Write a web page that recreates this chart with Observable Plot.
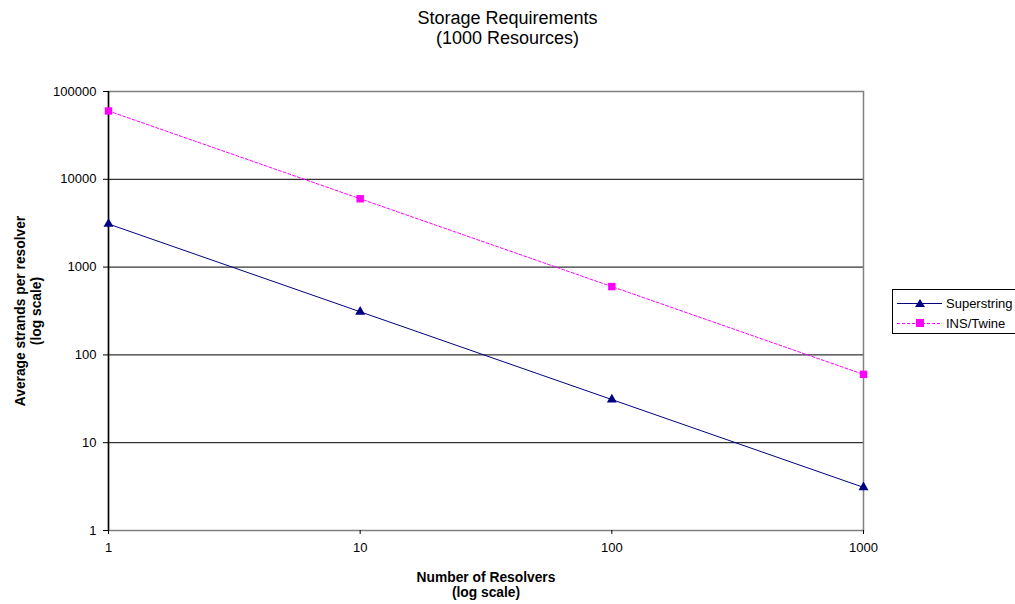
<!DOCTYPE html>
<html>
<head>
<meta charset="utf-8">
<script src="https://cdn.jsdelivr.net/npm/d3@7"></script>
<script src="https://cdn.jsdelivr.net/npm/@observablehq/plot@0.6"></script>
<style>
  html, body { margin: 0; padding: 0; background: #fff; }
  #wrap { position: relative; width: 1015px; height: 604px; overflow: hidden; font-family: "Liberation Sans", Arial, sans-serif; }
  #title { position: absolute; left: 0; top: 8px; width: 1015px; text-align: center; font-size: 18px; line-height: 20px; color: #000; }
  #chart { position: absolute; left: 0; top: 0; }
  #legend { position: absolute; left: 892px; top: 289px; width: 135px; height: 43px; border: 1px solid #000; background: #fff; font-size: 13px; }
  .lrow { position: absolute; left: 0; height: 16px; display: flex; align-items: center; }
  .lrow svg { display: block; }
  .lrow span { margin-left: 3px; }
</style>
</head>
<body>
<div id="wrap">
  <div id="chart"></div>
  <div id="title">Storage Requirements<br>(1000 Resources)</div>
  <div id="legend"></div>
</div>
<script>
// Data
const resolvers = [1, 10, 100, 1000];
const superstring = [3100, 310, 31, 3.1];
const insTwine = [60000, 6000, 600, 60];
const seriesNames = ["Superstring", "INS/Twine"];
const seriesColors = ["#000080", "#FF00FF"];
const yTicks = [1, 10, 100, 1000, 10000, 100000];
const gridValues = [10, 100, 1000, 10000];

const rows = [];
resolvers.forEach((r, i) => {
  rows.push({series: seriesNames[0], x: r, y: superstring[i]});
  rows.push({series: seriesNames[1], x: r, y: insTwine[i]});
});
const sRows = rows.filter(d => d.series === seriesNames[0]);
const iRows = rows.filter(d => d.series === seriesNames[1]);

const font = "Liberation Sans, Arial, sans-serif";

const chart = Plot.plot({
  width: 1015,
  height: 604,
  marginLeft: 108,
  marginRight: 152,
  marginTop: 91,
  marginBottom: 74,
  style: {fontFamily: font, fontSize: "13px", color: "#000", background: "transparent"},
  x: {type: "log", domain: [1, 1000]},
  y: {type: "log", domain: [1, 100000]},
  marks: [
    Plot.ruleY(gridValues, {stroke: "#000", strokeWidth: 1}),
    Plot.frame({stroke: "#808080", strokeWidth: 1.5}),
    Plot.axisY({ticks: yTicks, tickFormat: d => String(d), tickSize: 5, tickPadding: 7, label: null, stroke: "#000", fontSize: 13}),
    Plot.axisX({ticks: resolvers, tickFormat: d => String(d), tickSize: 4, tickPadding: 8, label: null, stroke: "#000", fontSize: 13}),
    Plot.ruleX([1], {stroke: "#000", strokeWidth: 1.5}),
    Plot.line(sRows, {x: "x", y: "y", stroke: seriesColors[0], strokeWidth: 1}),
    Plot.line(iRows, {x: "x", y: "y", stroke: seriesColors[1], strokeWidth: 1, strokeDasharray: "3,2"}),
    Plot.dot(sRows, {x: "x", y: "y", symbol: "triangle", r: 3.7, fill: seriesColors[0], stroke: "none"}),
    Plot.dot(iRows, {x: "x", y: "y", symbol: "square", r: 4.2, fill: seriesColors[1], stroke: "none"}),
    Plot.text(["Average strands per resolver\n(log scale)"], {
      text: d => d, frameAnchor: "left", rotate: -90, dx: -81, textAnchor: "middle", lineAnchor: "middle",
      lineHeight: 1.17, fontWeight: "bold", fontSize: 13.8, fill: "#000"
    }),
    Plot.text(["Number of Resolvers\n(log scale)"], {
      text: d => d, frameAnchor: "bottom", dy: 54, textAnchor: "middle", lineAnchor: "middle",
      lineHeight: 1.1, fontWeight: "bold", fontSize: 13.8, fill: "#000"
    })
  ]
});
document.getElementById("chart").appendChild(chart);

// Legend
const legend = document.getElementById("legend");
const legendSpecs = [
  {name: seriesNames[0], color: seriesColors[0], dash: null, sym: "tri", top: 5},
  {name: seriesNames[1], color: seriesColors[1], dash: "3,2", sym: "sq", top: 25}
];
legendSpecs.forEach(s => {
  const row = document.createElement("div");
  row.className = "lrow";
  row.style.top = s.top + "px";
  const marker = s.sym === "tri"
    ? `<path d="M27,4 L32,12 L22,12 Z" fill="${s.color}"/>`
    : `<rect x="23" y="4" width="8" height="8" fill="${s.color}"/>`;
  row.innerHTML = `<svg width="50" height="16"><line x1="4" y1="8.5" x2="49" y2="8.5" stroke="${s.color}" stroke-width="1" ${s.dash ? `stroke-dasharray="${s.dash}"` : ""}/>${marker}</svg><span>${s.name}</span>`;
  legend.appendChild(row);
});
</script>
</body>
</html>
